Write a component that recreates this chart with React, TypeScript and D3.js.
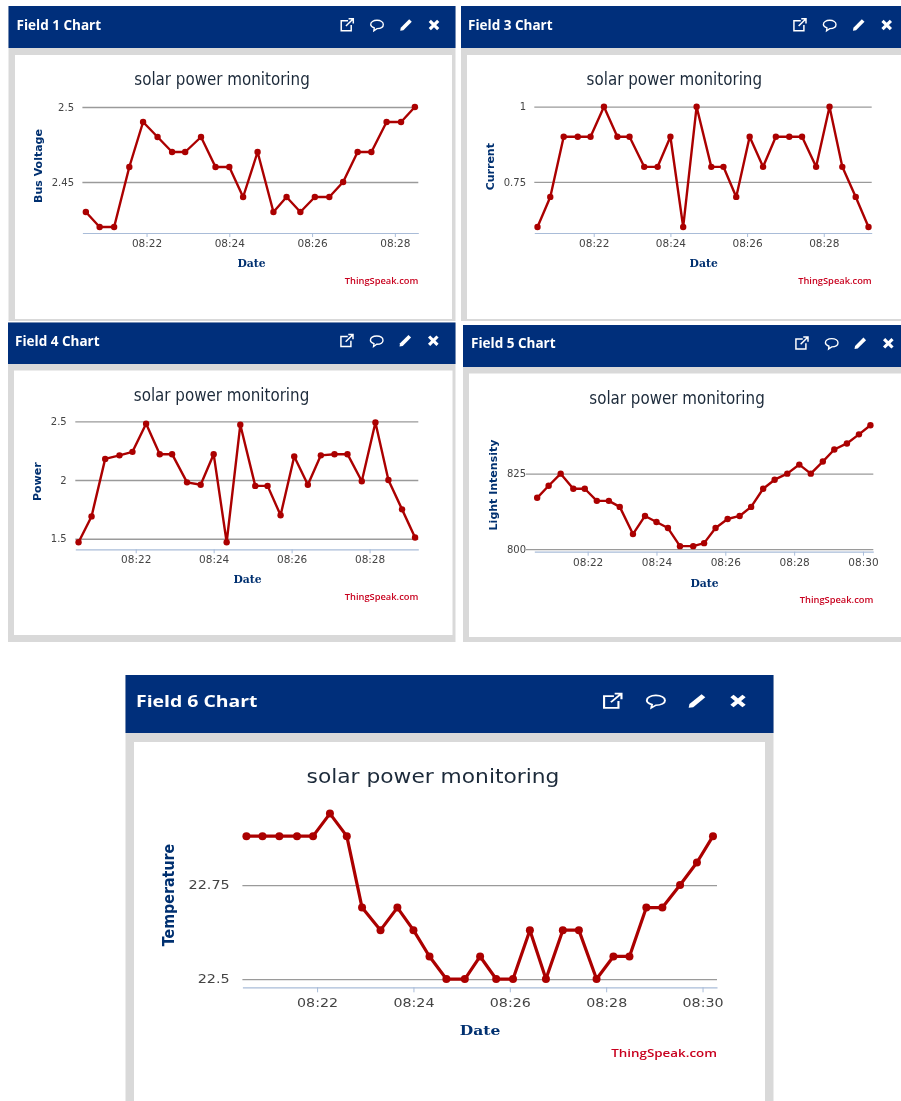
import React, { useEffect, useRef } from "react";
import * as d3 from "d3";

// sample times shared by all the fields (each field just has fewer or more of them)
const sampleTimes = [
  "08:20:32", "08:20:52", "08:21:13", "08:21:35", "08:21:55", "08:22:16", "08:22:37", "08:22:56",
  "08:23:19", "08:23:40", "08:24:00", "08:24:20", "08:24:41", "08:25:04", "08:25:23", "08:25:43",
  "08:26:04", "08:26:25", "08:26:45", "08:27:06", "08:27:26", "08:27:48", "08:28:09", "08:28:29",
  "08:28:50", "08:29:10", "08:29:32", "08:29:53", "08:30:13",
];

const busVoltage = [
  2.43, 2.42, 2.42, 2.46, 2.49, 2.48, 2.47, 2.47, 2.48, 2.46, 2.46, 2.44,
  2.47, 2.43, 2.44, 2.43, 2.44, 2.44, 2.45, 2.47, 2.47, 2.49, 2.49, 2.5,
];
const current = [
  0.6, 0.7, 0.9, 0.9, 0.9, 1, 0.9, 0.9, 0.8, 0.8, 0.9, 0.6, 1,
  0.8, 0.8, 0.7, 0.9, 0.8, 0.9, 0.9, 0.9, 0.8, 1, 0.8, 0.7, 0.6,
];
const power = [
  1.47, 1.69, 2.18, 2.21, 2.24, 2.48, 2.22, 2.22, 1.98, 1.96, 2.22, 1.47, 2.47,
  1.95, 1.95, 1.7, 2.2, 1.96, 2.21, 2.22, 2.22, 1.99, 2.49, 2.0, 1.75, 1.51,
];
const lightIntensity = [
  817, 821, 825, 820, 820, 816, 816, 814, 805, 811, 809, 807, 801, 801, 802,
  807, 810, 811, 814, 820, 823, 825, 828, 825, 829, 833, 835, 838, 841,
];
const temperature = [
  22.88, 22.88, 22.88, 22.88, 22.88, 22.94, 22.88, 22.69, 22.63, 22.69, 22.63, 22.56, 22.5, 22.5, 22.56,
  22.5, 22.5, 22.63, 22.5, 22.63, 22.63, 22.5, 22.56, 22.56, 22.69, 22.69, 22.75, 22.81, 22.88,
];

const busTicks = [2.45, 2.5];
const currentTicks = [0.75, 1];
const powerTicks = [1.5, 2, 2.5];
const lightTicks = [800, 825];
const tempTicks = [22.5, 22.75];

const HEADER = "#002f7b";
const BODY = "#d9d9d9";
const LINE = "#ab0000";
const AXIS_TEXT = "#003070";
const CHART_TITLE = "solar power monitoring";

const parseTime = d3.timeParse("%H:%M:%S");
const times = sampleTimes.map((t) => parseTime(t) as Date);

type Panel = {
  field: string; yLabel: string; values: number[]; ticks: number[];
  box: [number, number, number, number]; // outer x0,y0,x1,y1
  headerBottom: number; white: [number, number, number, number];
  plotX: [number, number]; plotY: [number, number]; domainY: [number, number]; gridLeft?: number;
  tickEnd: number; yLabelX: number; yLabelY: number; titleX: number; titleY: number;
  dateX: number; dateY: number; creditY: number; icons: number[]; iconY: number;
  headerTextX: number; k: number; sx: number; tickDy: number; r: number; lw: number;
};

const panels: Panel[] = [
  {
    field: "Field 1 Chart", yLabel: "Bus Voltage", values: busVoltage, ticks: busTicks,
    box: [8.5, 6, 455.5, 321], headerBottom: 48, white: [15, 55, 452, 319],
    plotX: [82.4, 418.3], plotY: [233, 107], domainY: [2.416, 2.5],
    tickEnd: 74, yLabelX: 38, yLabelY: 166, titleX: 222, titleY: 85, dateX: 251.5, dateY: 267,
    creditY: 284, icons: [347, 377, 406, 434], iconY: 25, headerTextX: 16.5, k: 1, sx: 1, tickDy: 14, r: 3.2, lw: 2.4,
  },
  {
    field: "Field 3 Chart", yLabel: "Current", values: current, ticks: currentTicks,
    box: [461, 6, 901, 321], headerBottom: 48, white: [467, 55, 901, 319],
    plotX: [534.3, 871.7], plotY: [233, 106.7], domainY: [0.58, 1],
    tickEnd: 526, yLabelX: 489.7, yLabelY: 166.7, titleX: 674.3, titleY: 85, dateX: 703.7, dateY: 267,
    creditY: 284, icons: [799.7, 829.7, 858.7, 886.7], iconY: 25, headerTextX: 468, k: 1, sx: 1, tickDy: 14, r: 3.2, lw: 2.4,
  },
  {
    field: "Field 4 Chart", yLabel: "Power", values: power, ticks: powerTicks,
    box: [8, 322.5, 455.5, 642], headerBottom: 364, white: [14, 370.5, 452.5, 635],
    plotX: [75.3, 418.3], plotY: [549.3, 421.3], domainY: [1.41, 2.5],
    tickEnd: 66.7, yLabelX: 37.5, yLabelY: 481.7, titleX: 221.5, titleY: 401, dateX: 247.5, dateY: 583,
    creditY: 599.5, icons: [346.7, 376.7, 405.3, 433.3], iconY: 340.7, headerTextX: 15, k: 1, sx: 1, tickDy: 14, r: 3.2, lw: 2.4,
  },
  {
    field: "Field 5 Chart", yLabel: "Light Intensity", values: lightIntensity, ticks: lightTicks,
    box: [463, 325, 901, 642], headerBottom: 367, white: [469, 373.5, 901, 637],
    plotX: [534.3, 873.3], plotY: [551.7, 425.3], domainY: [799.17, 841], gridLeft: 526,
    tickEnd: 526, yLabelX: 493, yLabelY: 485, titleX: 677, titleY: 404, dateX: 704.5, dateY: 586.5,
    creditY: 603, icons: [801.7, 831.7, 860.3, 888.3], iconY: 343.3, headerTextX: 471, k: 1, sx: 1, tickDy: 14, r: 3.2, lw: 2.4,
  },
  {
    field: "Field 6 Chart", yLabel: "Temperature", values: temperature, ticks: tempTicks,
    box: [125.5, 675, 773.5, 1101], headerBottom: 733, white: [134, 742, 765, 1101],
    plotX: [242.4, 717], plotY: [987.3, 813.6], domainY: [22.478, 22.94],
    tickEnd: 229.7, yLabelX: 168, yLabelY: 895, titleX: 433, titleY: 783, dateX: 480, dateY: 1035,
    creditY: 1057, icons: [612.4, 655.9, 697, 738], iconY: 701, headerTextX: 136, k: 1.18, sx: 1.22, tickDy: 19.5, r: 4, lw: 3.2,
  },
];

// small header glyphs, centred on 0,0
function drawIcons(g: d3.Selection<SVGGElement, unknown, null, undefined>, p: Panel) {
  const s = p.k * 1.05;
  const at = (i: number) => `translate(${p.icons[i]},${p.iconY}) scale(${s * p.sx},${s})`;

  g.append("path").attr("transform", at(0))
    .attr("d", "M1,-4H-5.5V5.5H4V0M-1,1L5.5,-5.5M1.5,-6H6V-1.5")
    .attr("fill", "none").attr("stroke", "#fff").attr("stroke-width", 1.4);
  g.append("path").attr("transform", at(1))
    .attr("d", "M0,-4.5C3.5,-4.5 6,-2.8 6,-0.5C6,1.8 3.5,3.4 0,3.4L-3,5.5L-2.6,2.8C-4.8,2 -6,0.9 -6,-0.5C-6,-2.8 -3.5,-4.5 0,-4.5Z")
    .attr("fill", "none").attr("stroke", "#fff").attr("stroke-width", 1.3);
  g.append("path").attr("transform", at(2))
    .attr("d", "M3,-5.5L5.5,-3L-2.5,5L-5.5,5.5L-5,2.5Z")
    .attr("fill", "#fff");
  g.append("path").attr("transform", at(3))
    .attr("d", "M-4,-4L4,4M4,-4L-4,4")
    .attr("stroke", "#fff").attr("stroke-width", 3).attr("fill", "none");
}

function drawPanel(svg: d3.Selection<SVGSVGElement, unknown, null, undefined>, p: Panel) {
  const g = svg.append("g");
  const [bx0, by0, bx1, by1] = p.box;
  const [wx0, wy0, wx1, wy1] = p.white;

  g.append("rect").attr("x", bx0).attr("y", by0).attr("width", bx1 - bx0).attr("height", by1 - by0).attr("fill", BODY);
  g.append("rect").attr("x", wx0).attr("y", wy0).attr("width", wx1 - wx0).attr("height", wy1 - wy0).attr("fill", "#fff");
  g.append("rect").attr("x", bx0).attr("y", by0).attr("width", bx1 - bx0).attr("height", p.headerBottom - by0).attr("fill", HEADER);

  // stretched text helper, the last panel is a wider blow-up of the same chart
  const label = (str: string, x: number, y: number, size: number, anchor: string, font: string, weight: string, fill: string) =>
    g.append("text")
      .attr("transform", `translate(${x},${y}) scale(${p.sx},1)`)
      .attr("text-anchor", anchor)
      .style("font-family", font).style("font-size", `${size * p.k}px`).style("font-weight", weight)
      .attr("fill", fill)
      .text(str);

  const headerBase = p.iconY + 5 * p.k;
  label(p.field, p.headerTextX, headerBase, 13.5, "start", "'Open Sans', sans-serif", "700", "#fff");
  drawIcons(g, p);

  const dates = times.slice(0, p.values.length);
  const [t0, t1] = d3.extent(dates) as [Date, Date];
  const x = d3.scaleTime()
    .domain([d3.timeSecond.offset(t0, -5), d3.timeSecond.offset(t1, 5)])
    .range(p.plotX);
  const y = d3.scaleLinear().domain(p.domainY).range(p.plotY);

  const gridLeft = p.gridLeft ?? p.plotX[0];
  const yAxis = g.append("g")
    .attr("transform", `translate(${gridLeft},0)`)
    .call(d3.axisLeft(y).tickValues(p.ticks).tickSize(gridLeft - p.plotX[1]).tickPadding(0).tickFormat((d) => String(d)));
  yAxis.select(".domain").remove();
  yAxis.selectAll("line").attr("stroke", "#9a9a9a").attr("stroke-width", 1.3);
  yAxis.selectAll("text")
    .attr("x", 0).attr("dy", "0.32em")
    .attr("transform", `translate(${p.tickEnd - gridLeft},0) scale(${p.sx},1)`)
    .attr("text-anchor", "end")
    .attr("fill", "#444")
    .style("font-family", "'DejaVu Sans', sans-serif")
    .style("font-size", `${10 * p.k}px`);

  const xAxis = g.append("g")
    .attr("transform", `translate(0,${p.plotY[0]})`)
    .call(d3.axisBottom(x)
      .ticks(d3.timeMinute.every(2) as d3.TimeInterval)
      .tickFormat(d3.timeFormat("%H:%M") as any)
      .tickSizeInner(p.k > 1 ? 5 : 4).tickSizeOuter(0).tickPadding(0));
  xAxis.select(".domain").attr("stroke", "#a9bcd8").attr("stroke-width", 1.2);
  xAxis.selectAll("line").attr("stroke", "#a9bcd8");
  xAxis.selectAll("text")
    .attr("y", p.tickDy).attr("dy", 0)
    .attr("fill", "#444")
    .style("font-family", "'DejaVu Sans', sans-serif")
    .style("font-size", `${10.5 * p.k}px`)
    .attr("transform", `scale(${p.k > 1 ? 1.15 : 1},1)`);

  const line = d3.line<number>().x((_, i) => x(dates[i])).y((d) => y(d));
  g.append("path").datum(p.values)
    .attr("d", line).attr("fill", "none")
    .attr("stroke", LINE).attr("stroke-width", p.lw).attr("stroke-linejoin", "round");
  g.selectAll("circle.pt").data(p.values).join("circle")
    .attr("class", "pt")
    .attr("cx", (_, i) => x(dates[i])).attr("cy", (d) => y(d)).attr("r", p.r)
    .attr("fill", LINE);

  label(CHART_TITLE, p.titleX, p.titleY, 16.8, "middle", "'DejaVu Sans Condensed', 'DejaVu Sans', sans-serif", "400", "#1c2a3a");
  label("Date", p.dateX, p.dateY, 10.8, "middle", "'DejaVu Serif', serif", "700", AXIS_TEXT);
  label("ThingSpeak.com", p.plotX[1], p.creditY, 9.3, "end", "'Open Sans', sans-serif", "600", "#c8001e");

  g.append("text")
    .attr("transform", `translate(${p.yLabelX},${p.yLabelY}) rotate(-90) scale(${p.k > 1 ? 1.1 : 1},${p.sx})`)
    .attr("text-anchor", "middle").attr("dy", "0.35em")
    .style("font-family", "'DejaVu Sans', sans-serif").style("font-size", `${11 * p.k}px`).style("font-weight", "700")
    .attr("fill", AXIS_TEXT)
    .text(p.yLabel);
}

export default function App() {
  const svgRef = useRef<SVGSVGElement>(null);

  useEffect(() => {
    if (!svgRef.current) return;
    const svg = d3.select(svgRef.current);
    svg.selectAll("*").remove();
    panels.forEach((p) => drawPanel(svg, p));
  }, []);

  return (
    <svg
      ref={svgRef}
      width={901}
      height={1101}
      style={{ position: "absolute", left: 0, top: 0, display: "block", background: "#fff", filter: "blur(0.35px)" }}
    />
  );
}
